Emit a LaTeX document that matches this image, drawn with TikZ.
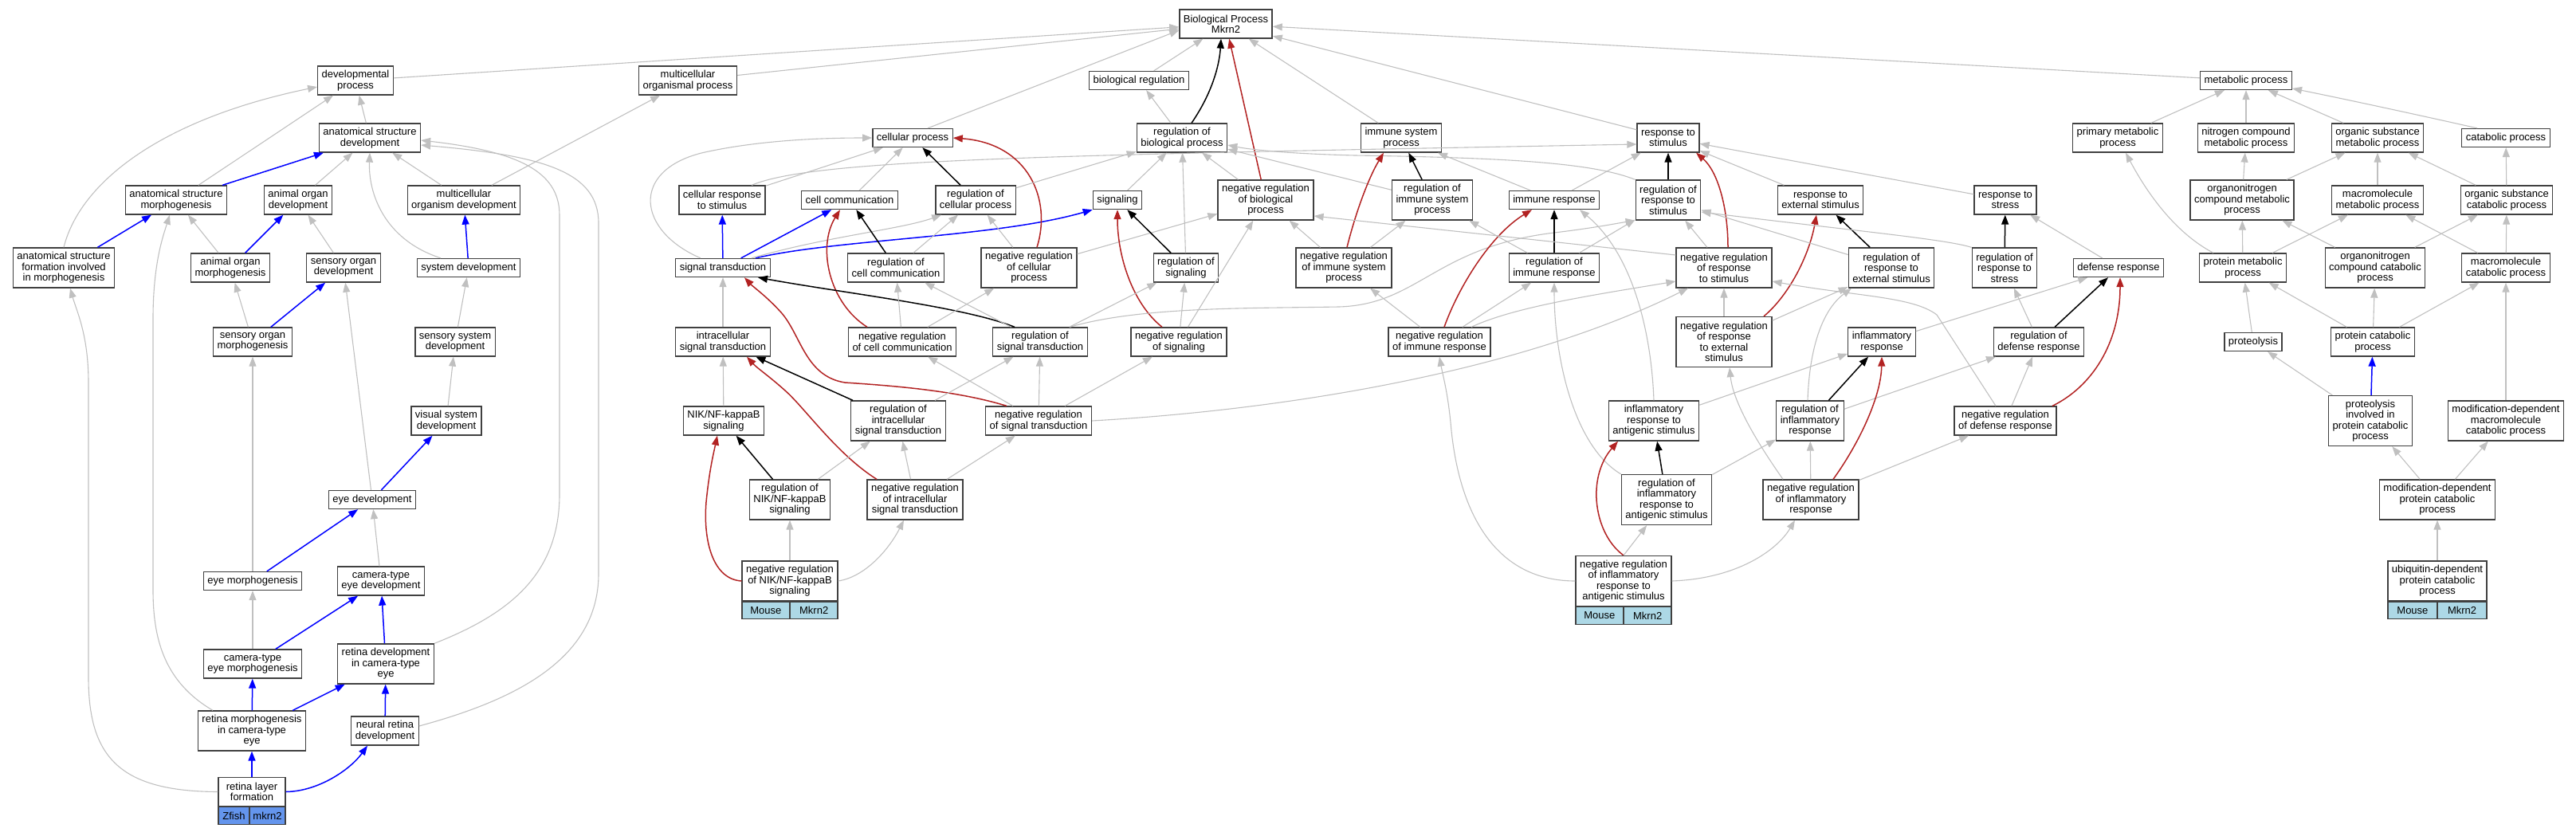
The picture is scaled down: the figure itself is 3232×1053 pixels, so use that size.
\documentclass[tikz,border=0pt]{standalone}
\usepackage{fontspec}
\setmainfont{Liberation Sans}
\usetikzlibrary{arrows.meta,positioning}
\definecolor{isagray}{HTML}{C0C0C0}
\definecolor{negred}{HTML}{B22222}
\definecolor{zfishblue}{HTML}{6495ED}
\definecolor{mouseblue}{HTML}{ADD8E6}
\definecolor{boxline}{HTML}{404040}
\tikzset{
  goterm/.style={draw=boxline, line width=1.3pt, fill=white, align=center, inner xsep=5pt, inner ysep=0pt, font=\fontsize{13}{13.4}\selectfont},
  box1/.style={goterm, minimum height=23pt},
  box2/.style={goterm, minimum height=36pt},
  box3/.style={goterm, minimum height=50pt},
  box4/.style={goterm, minimum height=63pt},
  cellbox/.style={draw=boxline, line width=1.3pt, inner sep=0pt, minimum height=21.5pt, font=\fontsize{13}{13.4}\selectfont},
  tip/.style={-{Triangle[length=12pt,width=9pt]}},
  isa/.style={tip, draw=isagray, line width=1.1pt},
  partof/.style={tip, draw=blue, line width=1.5pt},
  regby/.style={tip, draw=black, line width=1.5pt},
  negby/.style={tip, draw=negred, line width=1.5pt},
}
\begin{document}
\begin{tikzpicture}[x=1pt,y=-1pt]
\useasboundingbox (0,0) rectangle (3232,1053);
%%% top ranks
\node[box2] (BP) at (1538,30) {Biological Process\\Mkrn2};
\node[box2] (devproc) at (446,101) {developmental\\process};
\node[box2] (mcoproc) at (863,101) {multicellular\\organismal process};
\node[box1] (bioreg) at (1429,101) {biological regulation};
\node[box1] (metproc) at (2818,101) {metabolic process};
\node[box2] (asdev) at (464,173) {anatomical structure\\development};
\node[box1] (cellproc) at (1145,173) {cellular process};
\node[box2] (regbp) at (1483,173) {regulation of\\biological process};
\node[box2] (isp) at (1758,173) {immune system\\process};
\node[box2] (rts) at (2093,173) {response to\\stimulus};
\node[box2] (primmet) at (2657,173) {primary metabolic\\process};
\node[box2] (nitro) at (2818,173) {nitrogen compound\\metabolic process};
\node[box2] (orgsub) at (2983,173) {organic substance\\metabolic process};
\node[box1] (catproc) at (3144,173) {catabolic process};
%%% rank 3
\node[box2] (asmorph) at (221,251) {anatomical structure\\morphogenesis};
\node[box2] (aodev) at (374,251) {animal organ\\development};
\node[box2] (mcodev) at (582,251) {multicellular\\organism development};
\node[box2] (crstim) at (906,251) {cellular response\\to stimulus};
\node[box1] (cellcomm) at (1066,251) {cell communication};
\node[box2] (regcp) at (1224,251) {regulation of\\cellular process};
\node[box1] (signaling) at (1402,251) {signaling};
\node[box3] (negbp) at (1588,251) {negative regulation\\of biological\\process};
\node[box3] (regisp) at (1797,251) {regulation of\\immune system\\process};
\node[box1] (immresp) at (1950,251) {immune response};
\node[box3] (regrts) at (2093,251) {regulation of\\response to\\stimulus};
\node[box2] (rtes) at (2284,251) {response to\\external stimulus};
\node[box2] (rtstress) at (2516,251) {response to\\stress};
\node[box3] (orgnitro) at (2813,251) {organonitrogen\\compound metabolic\\process};
\node[box2] (macromet) at (2983,251) {macromolecule\\metabolic process};
\node[box2] (orgsubcat) at (3145,251) {organic substance\\catabolic process};
%%% rank 4
\node[box3] (asform) at (80,336) {anatomical structure\\formation involved\\in morphogenesis};
\node[box2] (aomorph) at (289,336) {animal organ\\morphogenesis};
\node[box2] (sodev) at (431,336) {sensory organ\\development};
\node[box1] (sysdev) at (588,336) {system development};
\node[box1] (sigtrans) at (907,336) {signal transduction};
\node[box2] (regcellcomm) at (1124,336) {regulation of\\cell communication};
\node[box3] (negcp) at (1291,336) {negative regulation\\of cellular\\process};
\node[box2] (regsignaling) at (1488,336) {regulation of\\signaling};
\node[box3] (negisp) at (1686,336) {negative regulation\\of immune system\\process};
\node[box2] (regimm) at (1950,336) {regulation of\\immune response};
\node[box3] (negrts) at (2163,336) {negative regulation\\of response\\to stimulus};
\node[box3] (regrtes) at (2373,336) {regulation of\\response to\\external stimulus};
\node[box3] (regrtstress) at (2515,336) {regulation of\\response to\\stress};
\node[box1] (defresp) at (2658,336) {defense response};
\node[box2] (protmet) at (2814,336) {protein metabolic\\process};
\node[box3] (orgnitrocat) at (2980,336) {organonitrogen\\compound catabolic\\process};
\node[box2] (macrocat) at (3144,336) {macromolecule\\catabolic process};
%%% rank 5
\node[box2] (somorph) at (317,429) {sensory organ\\morphogenesis};
\node[box2] (ssdev) at (571,429) {sensory system\\development};
\node[box2] (intrasig) at (907,429) {intracellular\\signal transduction};
\node[box2] (negcellcomm) at (1132,429) {negative regulation\\of cell communication};
\node[box2] (regsigtrans) at (1305,429) {regulation of\\signal transduction};
\node[box2] (negsignaling) at (1479,429) {negative regulation\\of signaling};
\node[box2] (negimm) at (1806,429) {negative regulation\\of immune response};
\node[box4] (negrtes) at (2163,429) {negative regulation\\of response\\to external\\stimulus};
\node[box2] (inflresp) at (2361,429) {inflammatory\\response};
\node[box2] (regdef) at (2558,429) {regulation of\\defense response};
\node[box1] (proteolysis) at (2827,429) {proteolysis};
\node[box2] (protcat) at (2977,429) {protein catabolic\\process};
%%% rank 6
\node[box2] (vsdev) at (560,528) {visual system\\development};
\node[box2] (NIK) at (908,528) {NIK/NF-kappaB\\signaling};
\node[box3] (regintra) at (1127,528) {regulation of\\intracellular\\signal transduction};
\node[box2] (negsigtrans) at (1303,528) {negative regulation\\of signal transduction};
\node[box3] (inflag) at (2075,528) {inflammatory\\response to\\antigenic stimulus};
\node[box3] (reginfl) at (2271,528) {regulation of\\inflammatory\\response};
\node[box2] (negdef) at (2516,528) {negative regulation\\of defense response};
\node[box4] (protinv) at (2974,528) {proteolysis\\involved in\\protein catabolic\\process};
\node[box3] (moddepmacro) at (3144,528) {modification-dependent\\macromolecule\\catabolic process};
%%% rank 7
\node[box1] (eyedev) at (467,627) {eye development};
\node[box3] (regNIK) at (991,627) {regulation of\\NIK/NF-kappaB\\signaling};
\node[box3] (negintra) at (1148,627) {negative regulation\\of intracellular\\signal transduction};
\node[box4] (reginflag) at (2091,627) {regulation of\\inflammatory\\response to\\antigenic stimulus};
\node[box3] (neginfl) at (2272,627) {negative regulation\\of inflammatory\\response};
\node[box3] (moddepprot) at (3058,627) {modification-dependent\\protein catabolic\\process};
%%% rank 8 and below
\node[box1] (eyemorph) at (317,729) {eye morphogenesis};
\node[box2] (ctedev) at (478,729) {camera-type\\eye development};
\node[box3, minimum width=119pt] (negNIK) at (991,729) {negative regulation\\of NIK/NF-kappaB\\signaling};
\node[box4, minimum width=119pt] (neginflag) at (2037,729) {negative regulation\\of inflammatory\\response to\\antigenic stimulus};
\node[box3, minimum width=124pt] (ubiq) at (3058,729) {ubiquitin-dependent\\protein catabolic\\process};
\node[box2] (ctemorph) at (317,833) {camera-type\\eye morphogenesis};
\node[box3] (retdev) at (484,833) {retina development\\in camera-type\\eye};
\node[box3] (retmorph) at (316,917) {retina morphogenesis\\in camera-type\\eye};
\node[box2] (nrdev) at (483,917) {neural retina\\development};
\node[box2, minimum width=84pt] (retlayer) at (316,993.5) {retina layer\\formation};
%%% species and gene cells
\node[cellbox, fill=zfishblue, minimum width=39pt, anchor=north west] (retlayersp) at (retlayer.south west) {Zfish};
\node[cellbox, fill=zfishblue, minimum width=45pt, anchor=north east] (retlayergn) at (retlayer.south east) {mkrn2};
\node[cellbox, fill=mouseblue, minimum width=59.5pt, anchor=north west] (negNIKsp) at (negNIK.south west) {Mouse};
\node[cellbox, fill=mouseblue, minimum width=59.5pt, anchor=north east] (negNIKgn) at (negNIK.south east) {Mkrn2};
\node[cellbox, fill=mouseblue, minimum width=59.5pt, anchor=north west] (neginflagsp) at (neginflag.south west) {Mouse};
\node[cellbox, fill=mouseblue, minimum width=59.5pt, anchor=north east] (neginflaggn) at (neginflag.south east) {Mkrn2};
\node[cellbox, fill=mouseblue, minimum width=62pt, anchor=north west] (ubiqsp) at (ubiq.south west) {Mouse};
\node[cellbox, fill=mouseblue, minimum width=62pt, anchor=north east] (ubiqgn) at (ubiq.south east) {Mkrn2};
%%% edges into the root
\draw[isa] (devproc) -- (BP);
\draw[isa] (mcoproc) -- (BP);
\draw[isa] ([xshift=19pt]cellproc.north) -- ([yshift=-8pt]BP.west);
\draw[isa] (bioreg) -- (BP);
\draw[regby] ([xshift=12pt]regbp.north) .. controls (1522,115) and (1530,80) .. ([xshift=-6pt]BP.south);
\draw[negby] (negbp) -- (BP);
\draw[isa] (isp) -- (BP);
\draw[isa] (rts) -- (BP);
\draw[isa] (metproc) -- (BP);
%%% developmental branch
\draw[isa] (asdev) -- (devproc);
\draw[isa] (asmorph) -- (devproc);
\draw[isa] (asform.north) .. controls (100,230) and (200,150) .. ([yshift=-8pt]devproc.west);
\draw[isa] (mcodev) -- (mcoproc);
\draw[partof] (asmorph) -- (asdev);
\draw[isa] (aodev) -- (asdev);
\draw[isa] (mcodev) -- (asdev);
\draw[isa] ([xshift=-35pt]sysdev.north) .. controls (480,300) and (462,240) .. (asdev.south);
\draw[isa] (retdev.north east) .. controls (640,770) and (702,720) .. (702,620) -- (702,270) .. controls (702,215) and (650,190) .. ([yshift=-3pt]asdev.east);
\draw[isa] ([yshift=6pt]nrdev.east) .. controls (640,880) and (751,830) .. (751,720) -- (751,280) .. controls (751,215) and (680,195) .. ([yshift=-9pt]asdev.east);
\draw[partof] (asform) -- (asmorph);
\draw[isa] (aomorph) -- (asmorph);
\draw[isa] ([xshift=-49pt]retmorph.north) .. controls (205,855) and (192,800) .. (192,740) -- (192,400) .. controls (192,330) and (205,295) .. ([xshift=-8pt]asmorph.south);
\draw[partof] (aomorph) -- (aodev);
\draw[isa] (sodev) -- (aodev);
\draw[partof] (sysdev) -- (mcodev);
\draw[isa] (somorph) -- (aomorph);
\draw[partof] (somorph) -- (sodev);
\draw[isa] (eyedev) -- (sodev);
\draw[isa] (ssdev) -- (sysdev);
\draw[isa] (vsdev) -- (ssdev);
\draw[partof] (eyedev) -- (vsdev);
\draw[isa] (eyemorph) -- (somorph);
\draw[partof] (eyemorph) -- (eyedev);
\draw[isa] (ctedev) -- (eyedev);
\draw[isa] (ctemorph) -- (eyemorph);
\draw[partof] (ctemorph) -- (ctedev);
\draw[partof] (retdev) -- (ctedev);
\draw[partof] (retmorph) -- (ctemorph);
\draw[partof] (retmorph) -- (retdev);
\draw[partof] (nrdev) -- (retdev);
\draw[partof] (retlayer) -- (retmorph);
\draw[partof] (retlayer.east) .. controls (400,993) and (440,965) .. ([xshift=-22pt]nrdev.south);
\draw[isa] (retlayer.west) .. controls (150,993) and (111,950) .. (111,850) -- (111,480) .. controls (111,420) and (96,390) .. ([xshift=8pt]asform.south);
%%% cellular process branch
\draw[isa] (crstim) -- (cellproc);
\draw[isa] ([xshift=37pt]crstim.north) .. controls (1020,200) and (1300,195) .. ([yshift=-8pt]rts.west);
\draw[partof] (sigtrans) -- (crstim);
\draw[partof] (sigtrans) -- (cellcomm);
\draw[partof] ([xshift=41pt]sigtrans.north) .. controls (1050,300) and (1250,298) .. (signaling.south west);
\draw[isa] ([xshift=36pt]sigtrans.north) .. controls (1040,296) and (1130,288) .. ([xshift=8pt]regcp.south west);
\draw[isa] ([xshift=-28pt]sigtrans.north) .. controls (800,290) and (790,215) .. (880,192) .. controls (950,176) and (1030,173) .. (cellproc.west);
\draw[isa] (cellcomm) -- (cellproc);
\draw[regby] (regcellcomm) -- (cellcomm);
\draw[negby] ([xshift=-44pt]negcellcomm.north) .. controls (1040,380) and (1025,310) .. ([xshift=-12pt]cellcomm.south);
\draw[regby] (regcp) -- (cellproc);
\draw[negby] ([xshift=10pt]negcp.north) .. controls (1320,250) and (1290,180) .. (cellproc.east);
\draw[isa] (regcp) -- (regbp);
\draw[isa] (negcp) -- (regcp);
\draw[isa] (negcp) -- (negbp);
\draw[isa] (regcellcomm) -- (regcp);
\draw[isa] (signaling) -- (regbp);
\draw[regby] (regsignaling) -- (signaling);
\draw[negby] ([xshift=-21pt]negsignaling.north) .. controls (1420,380) and (1402,320) .. (signaling.south);
\draw[isa] (regsignaling) -- (regbp);
\draw[isa] (negbp) -- (regbp);
\draw[isa] (regbp) -- (bioreg);
%%% signal transduction
\draw[isa] (intrasig) -- (sigtrans);
\draw[regby] ([xshift=-32pt]regsigtrans.north) .. controls (1210,385) and (1060,368) .. ([xshift=44pt]sigtrans.south);
\draw[negby] ([xshift=-40pt]negsigtrans.north) .. controls (1200,490) and (1120,484) .. (1060,480) .. controls (1010,472) and (1005,420) .. (980,392) .. controls (962,372) and (945,360) .. ([xshift=27pt]sigtrans.south);
\draw[regby] (regintra) -- (intrasig);
\draw[isa] (regintra) -- (regsigtrans);
\draw[negby] ([xshift=-48pt]negintra.north) .. controls (1050,570) and (1010,512) .. (985,490) .. controls (965,472) and (950,462) .. ([xshift=30pt]intrasig.south);
\draw[isa] (negintra) -- (regintra);
\draw[isa] (negintra) -- (negsigtrans);
\draw[isa] (NIK) -- (intrasig);
\draw[regby] (regNIK) -- (NIK);
\draw[isa] (regNIK) -- (regintra);
\draw[negby] (negNIK.west) .. controls (895,727) and (882,680) .. (886,630) .. controls (890,590) and (895,570) .. ([xshift=-8pt]NIK.south);
\draw[isa] (negNIK) -- (regNIK);
\draw[isa] (negNIK.east) .. controls (1085,724) and (1115,690) .. ([xshift=-14pt]negintra.south);
\draw[isa] (negcellcomm) -- (regcellcomm);
\draw[isa] (negcellcomm) -- (negcp);
\draw[isa] (regsigtrans) -- (regcellcomm);
\draw[isa] (regsigtrans) -- (regsignaling);
\draw[isa] ([xshift=37pt]regsigtrans.north) .. controls (1430,385) and (1560,387) .. (1680,385) .. controls (1780,382) and (1800,310) .. (1950,292) .. controls (2000,286) and (2030,280) .. (regrts.south west);
\draw[isa] (negsigtrans) -- (negcellcomm);
\draw[isa] (negsigtrans) -- (regsigtrans);
\draw[isa] (negsigtrans) -- (negsignaling);
\draw[isa] (negsigtrans.east) .. controls (1600,515) and (1900,470) .. ([xshift=-45pt]negrts.south);
\draw[isa] (negsignaling) -- (regsignaling);
\draw[isa] (negsignaling) -- (negbp);
%%% immune branch
\draw[isa] (regisp) -- (regbp);
\draw[isa] (regrts.north west) .. controls (2000,205) and (1900,198) .. (1700,195) .. controls (1620,193) and (1570,188) .. ([yshift=-9pt]regbp.east);
\draw[regby] (regisp) -- (isp);
\draw[negby] ([xshift=4pt]negisp.north) .. controls (1700,270) and (1716,225) .. ([xshift=-22pt]isp.south);
\draw[isa] (immresp) -- (isp);
\draw[isa] (negisp) -- (negbp);
\draw[isa] (negisp) -- (regisp);
\draw[isa] (immresp) -- (rts);
\draw[regby] (regimm) -- (immresp);
\draw[negby] ([xshift=6pt]negimm.north) .. controls (1830,360) and (1870,295) .. ([xshift=-28pt]immresp.south);
\draw[isa] (regimm) -- (regisp);
\draw[isa] (regimm) -- (regrts);
\draw[isa] (negimm) -- (negisp);
\draw[isa] (negimm) -- (regimm);
\draw[isa] ([xshift=40pt]negimm.north) .. controls (1900,385) and (2000,370) .. ([yshift=-17pt]negrts.west);
\draw[regby] (regrts) -- (rts);
\draw[negby] ([xshift=5pt]negrts.north) .. controls (2168,260) and (2155,215) .. ([xshift=35pt]rts.south);
\draw[isa] (negrts) -- (regrts);
\draw[isa] ([yshift=16pt]negrts.west) -- ([yshift=-20pt]negbp.east);
%%% response to stimulus branch
\draw[isa] (rtes) -- (rts);
\draw[isa] (rtstress) -- (rts);
\draw[regby] (regrtes) -- (rtes);
\draw[negby] ([xshift=50pt]negrtes.north) .. controls (2245,370) and (2270,320) .. ([xshift=-5pt]rtes.south);
\draw[isa] (regrtes) -- (regrts);
\draw[isa] (regrtstress.north west) .. controls (2440,300) and (2330,290) .. ([yshift=-15pt]regrts.east);
\draw[isa] (negrtes) -- (negrts);
\draw[isa] (negrtes) -- (regrtes);
\draw[regby] (regrtstress) -- (rtstress);
\draw[isa] (defresp) -- (rtstress);
\draw[regby] (regdef) -- (defresp);
\draw[isa] (regdef) -- (regrtstress);
\draw[negby] ([xshift=59pt]negdef.north) .. controls (2625,485) and (2660,430) .. ([xshift=2pt]defresp.south);
\draw[isa] (negdef) -- (regdef);
\draw[isa] ([xshift=-12pt]negdef.north) -- (2430,395) .. controls (2400,372) and (2330,372) .. ([yshift=-17pt]negrts.east);
\draw[isa] (inflresp) -- (defresp);
\draw[regby] (reginfl) -- (inflresp);
\draw[isa] (reginfl) -- (regdef);
\draw[isa] ([xshift=-3pt]reginfl.north) .. controls (2270,440) and (2285,390) .. ([xshift=-50pt]regrtes.south);
\draw[negby] ([xshift=28pt]neginfl.north) .. controls (2330,560) and (2360,500) .. (inflresp.south);
\draw[isa] (neginfl) -- (reginfl);
\draw[isa] (neginfl) -- (negdef);
\draw[isa] ([xshift=-35pt]neginfl.north) .. controls (2215,570) and (2175,510) .. ([xshift=7pt]negrtes.south);
\draw[isa] (inflag) -- (inflresp);
\draw[isa] (inflag.north) .. controls (2072,420) and (2050,320) .. ([xshift=32pt]immresp.south);
\draw[regby] (reginflag) -- (inflag);
\draw[isa] (reginflag.north west) .. controls (1975,560) and (1950,450) .. (regimm.south);
\draw[isa] (reginflag) -- (reginfl);
\draw[negby] (neginflag.north) .. controls (2000,670) and (1990,600) .. ([xshift=-45pt]inflag.south);
\draw[isa] (neginflag.north) -- (reginflag);
\draw[isa] (neginflag.west) .. controls (1880,729) and (1830,650) .. (1820,530) .. controls (1816,490) and (1810,470) .. (negimm.south);
\draw[isa] (neginflag.east) .. controls (2180,726) and (2230,690) .. ([xshift=-20pt]neginfl.south);
%%% metabolic branch
\draw[isa] (primmet) -- (metproc);
\draw[isa] (nitro) -- (metproc);
\draw[isa] (orgsub) -- (metproc);
\draw[isa] ([xshift=-36pt]catproc.north) .. controls (3060,150) and (2960,128) .. ([yshift=-10pt]metproc.east);
\draw[isa] (orgnitro) -- (nitro);
\draw[isa] (orgnitro) -- (orgsub);
\draw[isa] (macromet) -- (orgsub);
\draw[isa] (orgsubcat) -- (orgsub);
\draw[isa] (orgsubcat) -- (catproc);
\draw[isa] ([xshift=-37pt]protmet.north) .. controls (2725,290) and (2690,235) .. ([xshift=10pt]primmet.south);
\draw[isa] (protmet) -- (orgnitro);
\draw[isa] (protmet) -- (macromet);
\draw[isa] (orgnitrocat) -- (orgnitro);
\draw[isa] (orgnitrocat) -- (orgsubcat);
\draw[isa] (macrocat) -- (macromet);
\draw[isa] (macrocat) -- (orgsubcat);
\draw[isa] (proteolysis) -- (protmet);
\draw[isa] (protcat) -- (protmet);
\draw[isa] (protcat) -- (orgnitrocat);
\draw[isa] (protcat) -- (macrocat);
\draw[isa] (protinv) -- (proteolysis);
\draw[partof] (protinv) -- (protcat);
\draw[isa] (moddepmacro) -- (macrocat);
\draw[isa] (moddepprot) -- (protinv);
\draw[isa] (moddepprot) -- (moddepmacro);
\draw[isa] (ubiq) -- (moddepprot);
\end{tikzpicture}
\end{document}
